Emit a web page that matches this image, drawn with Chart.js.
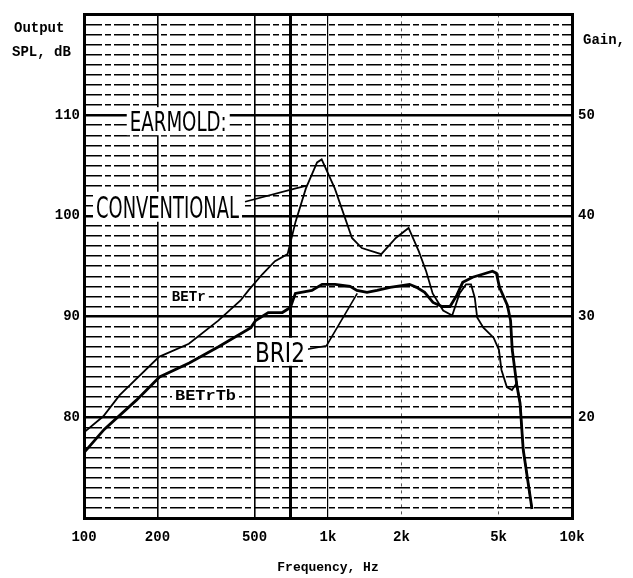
<!DOCTYPE html>
<html><head><meta charset="utf-8">
<script src="https://cdn.jsdelivr.net/npm/chart.js@4/dist/chart.umd.min.js"></script>
<style>html,body{margin:0;padding:0;background:#fff}#wrap{width:633px;height:578px}</style>
</head><body><div id="wrap"><canvas id="c" width="633" height="578"></canvas></div>
<script>
// ---- data ----
const freqTicks = [100, 200, 500, 700, 1000, 2000, 5000, 10000];
const freqTickLabels = ['100', '200', '500', '', '1k', '2k', '5k', '10k'];
const splTickLabels = [80, 90, 100, 110];
const gainTickLabels = [20, 30, 40, 50];

const convFreq = [100,120,140,203,269,355,438,472,538,606,683,736,811,902,942,1067,1254,1376,1653,1897,2139,2354,2525,2685,2965,3229,3461,3680,3855,3993,4087,4334,4771,5018,5140,5408,5675,5935,6125,6310,6855];
const convSpl  = [78.5,80.1,82.2,86.0,87.3,89.6,91.6,92.6,94.2,95.5,96.2,99.4,102.7,105.3,105.6,102.7,97.8,96.8,96.2,97.8,98.8,96.5,94.5,92.3,90.6,90.1,92.3,93.2,93.2,91.9,89.9,88.9,87.9,86.7,84.7,83.0,82.7,83.4,81.4,76.8,70.9];

const betrFreq = [100,121,164,204,270,356,483,505,569,650,701,735,859,946,1069,1231,1314,1445,1588,1796,2158,2307,2490,2693,2934,3162,3370,3565,3915,4300,4720,4900,5045,5437,5600,5690,5940,6125,6310,6855];
const betrSpl  = [76.5,78.8,81.7,84.0,85.4,87.0,88.9,89.6,90.4,90.4,90.9,92.3,92.6,93.2,93.2,93.0,92.6,92.4,92.6,92.9,93.2,92.9,92.4,91.4,91.0,91.0,92.1,93.4,93.9,94.2,94.5,94.3,92.9,91.1,89.6,86.7,83.2,81.4,76.8,70.9];

const toPts = (fs, ys) => fs.map((f, i) => ({x: f, y: ys[i]}));

// ---- annotation texts (anchored in data coordinates) ----
const bigLabels = [
  {text: 'EARMOLD:', f: 154, db: 109.4, w: 97, h: 20},
  {text: 'CONVENTIONAL', f: 112, db: 100.9, w: 143, h: 22},
  {text: 'BRI2', f: 502, db: 86.5, w: 50, h: 20}
];
const smallLabels = [
  {text: 'BETr', f: 229, db: 91.9, w: 34},
  {text: 'BETrTb', f: 236, db: 82.1, w: 61}
];
const pointers = [
  [[457, 101.4], [731, 102.7], [820, 103.0]],
  [[803, 86.7], [986, 87.1], [1318, 92.3]]
];

const MONO = 'Liberation Mono';

const notesPlugin = {
  id: 'notes',
  afterDatasetsDraw(chart) {
    const ctx = chart.ctx, xs = chart.scales.x, ys = chart.scales.y;
    ctx.save();
    ctx.fillStyle = '#000';
    ctx.strokeStyle = '#000'; ctx.lineWidth = 1.6;
    pointers.forEach(p => {
      ctx.beginPath();
      p.forEach((q, i) => {
        const px = xs.getPixelForValue(q[0]), py = ys.getPixelForValue(q[1]);
        if (i === 0) ctx.moveTo(px, py); else ctx.lineTo(px, py);
      });
      ctx.stroke();
    });
    bigLabels.forEach(l => {
      const x = xs.getPixelForValue(l.f), cy = ys.getPixelForValue(l.db);
      ctx.fillStyle = '#fff';
      ctx.fillRect(x - 3, cy - l.h / 2 - 4, l.w + 6, l.h + 8);
      const size = l.h / 0.729;
      ctx.font = size.toFixed(1) + 'px "DejaVu Sans"';
      const w0 = ctx.measureText(l.text).width;
      ctx.save();
      ctx.translate(x, cy + l.h / 2);
      ctx.scale(l.w / w0, 1);
      ctx.fillStyle = '#000';
      ctx.textBaseline = 'alphabetic';
      ctx.textAlign = 'left';
      ctx.fillText(l.text, 0, 0);
      ctx.restore();
    });
    smallLabels.forEach(l => {
      const x = xs.getPixelForValue(l.f), cy = ys.getPixelForValue(l.db);
      ctx.fillStyle = '#fff';
      ctx.fillRect(x - 3, cy - 8, l.w + 6, 16);
      ctx.font = 'bold 14px "' + MONO + '"';
      const w0 = ctx.measureText(l.text).width;
      ctx.save();
      ctx.translate(x, cy);
      ctx.scale(l.w / w0, 1);
      ctx.fillStyle = '#000';
      ctx.textBaseline = 'middle';
      ctx.textAlign = 'left';
      ctx.fillText(l.text, 0, 0);
      ctx.restore();
    });
    ctx.restore();
  },
  afterDraw(chart) {
    const ctx = chart.ctx;
    ctx.save();
    ctx.fillStyle = '#000';
    ctx.font = 'bold 14px "' + MONO + '"';
    ctx.textBaseline = 'middle';
    ctx.textAlign = 'left';
    ctx.fillText('Output', 14, 28);
    ctx.fillText('SPL, dB', 12, 52);
    ctx.fillText('Gain,', 583, 40);
    ctx.restore();
  }
};

const tickFont = {family: MONO, size: 14, weight: 'bold'};

new Chart(document.getElementById('c'), {
  type: 'line',
  data: {
    datasets: [
      {label: 'CONVENTIONAL', data: toPts(convFreq, convSpl), borderColor: '#000', borderWidth: 1.8,
       pointRadius: 0, tension: 0, fill: false, yAxisID: 'y'},
      {label: 'BETr', data: toPts(betrFreq, betrSpl), borderColor: '#000', borderWidth: 2.8,
       pointRadius: 0, tension: 0, fill: false, yAxisID: 'y'}
    ]
  },
  options: {
    responsive: false,
    animation: false,
    devicePixelRatio: 1,
    parsing: false,
    layout: {padding: {top: 12, right: 0, bottom: 0, left: 0}},
    plugins: {legend: {display: false}, tooltip: {enabled: false}},
    scales: {
      x: {
        type: 'logarithmic', position: 'bottom', min: 100, max: 10000,
        afterBuildTicks: s => { s.ticks = freqTicks.map(v => ({value: v})); },
        afterFit: s => { s.height = 60; },
        ticks: {
          autoSkip: false, maxRotation: 0, minRotation: 0, padding: 11, color: '#000', font: tickFont,
          callback: v => { const i = freqTicks.indexOf(v); return i >= 0 ? freqTickLabels[i] : ''; }
        },
        grid: {
          drawTicks: false,
          color: c => { const v = c.tick && c.tick.value; return (v === 2000 || v === 5000) ? '#555' : '#000'; },
          lineWidth: c => {
            const v = c.tick && c.tick.value;
            if (v === 100 || v === 10000) return 3;
            if (v === 700) return 3;
            if (v === 2000 || v === 5000) return 1;
            if (v === 1000) return 1.2;
            return 1.6;
          }
        },
        border: {
          display: true, color: '#000', width: 3,
          dash: c => { const v = c.tick && c.tick.value; return (v === 2000 || v === 5000) ? [3, 4] : []; }
        },
        title: {display: true, text: 'Frequency, Hz', color: '#000',
                font: {family: MONO, size: 13, weight: 'bold'}, padding: {top: 0, bottom: 2}}
      },
      y: {
        type: 'linear', position: 'left', min: 70, max: 120,
        afterBuildTicks: s => { const t = []; for (let v = 70; v <= 120; v++) t.push({value: v}); s.ticks = t; },
        afterFit: s => { s.width = 84; },
        ticks: {
          autoSkip: false, padding: 4, color: '#000', font: tickFont,
          callback: v => splTickLabels.includes(v) ? String(v) : ''
        },
        grid: {
          drawTicks: false, color: '#000',
          lineWidth: c => {
            const v = c.tick && c.tick.value;
            if (v === 70 || v === 120) return 3;
            if (v % 10 === 0) return 2.6;
            return 1.5;
          }
        },
        border: {
          display: true, color: '#000', width: 3,
          dash: c => {
            const v = c.tick && c.tick.value;
            if (v === undefined || v % 10 === 0) return [];
            return [16, 3, 6, 3];
          }
        }
      },
      y2: {
        type: 'linear', position: 'right', min: 10, max: 60,
        afterBuildTicks: s => { s.ticks = gainTickLabels.map(v => ({value: v})); },
        afterFit: s => { s.width = 61; },
        ticks: {autoSkip: false, padding: 6, color: '#000', font: tickFont},
        grid: {drawOnChartArea: false, drawTicks: false},
        border: {display: true, color: '#000', width: 3}
      }
    }
  },
  plugins: [notesPlugin]
});
</script>
</body></html>
